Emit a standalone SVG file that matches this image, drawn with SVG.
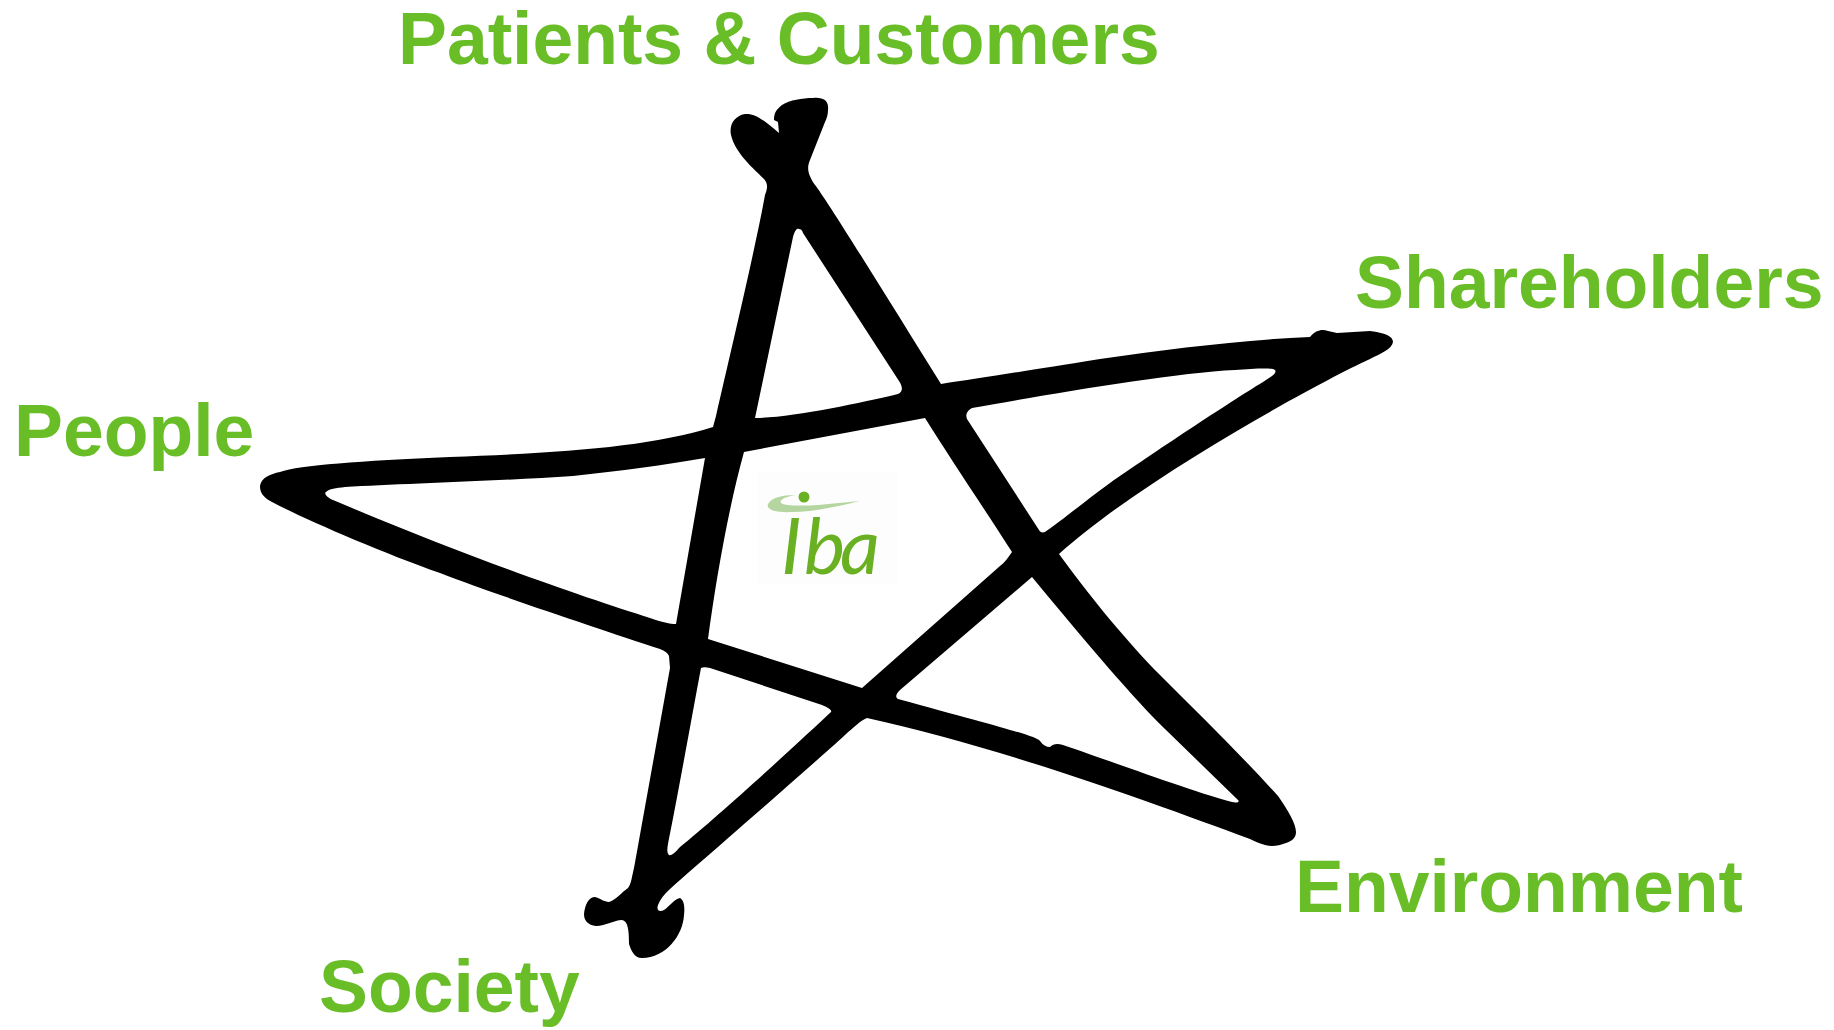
<svg xmlns="http://www.w3.org/2000/svg" width="1834" height="1030" viewBox="0 0 1834 1030">
<style>
.lbl{font-family:"Liberation Sans",Arial,sans-serif;font-weight:700;font-size:73.3px;fill:#69be28}
.star{fill:#000;fill-rule:evenodd}
</style>
<rect width="1834" height="1030" fill="#fff"/>
<g id="connectors">
<path class="star" d="M779 133 L778 122 L774 120 C774 113 776 110 782 105 C790 100 802 98 813 98 C824 97 829 101 828 110 C828 114 827 118 825 122 L810 160 C807 167 807 173 815 185 C825 197 890 302 941 384 C980 378 1020 372 1100 359 C1170 349 1240 340 1310 337 C1316 330 1322 329 1328 331 L1337 333 L1370 331 C1385 333 1393 336 1393 342 C1392 349 1380 354 1370 359 C1340 372 1150 472 1059 554 C1090 597 1130 645 1160 675 C1200 715 1240 754 1278 796 C1288 810 1296 824 1296 832 C1296 838 1292 841 1286 843 C1278 846 1272 847 1265 845 C1258 843 1254 841 1250 839 C1150 802 1000 747 867 718 C860 721 854 727 845 735 C800 776 700 862 670 889 C664 894 660 900 658 905 C656 911 660 912 664 910 C670 906 674 899 680 898 C684 900 685 907 684 915 C683 935 666 958 642 958 C634 958 631 950 629 944 C629 930 628 921 622 920 C614 920 606 926 596 926 C588 925 584 921 584 914 C585 904 589 897 595 897 C600 898 604 902 609 902 C616 900 622 892 628 888 C631 885 632 876 634 868 L670 668 L669 656 C668 653 665 651 660 649 C600 629 500 596 440 573 C380 552 300 517 272 502 C263 497 260 493 260 486 C261 478 270 474 280 472 C300 465 360 461 450 457 C560 453 650 447 713 427 L716 416 C730 355 755 250 765 195 C768 187 768 183 763 178 C755 170 735 153 731 135 C729 125 734 116 745 114 C755 113 765 121 779 133 Z
M755 418 L793 237 C795 230 797 228 799 229 C801 229 802 230 803 233 L899 381 C903 387 903 392 898 394 C860 403 790 418 755 418 Z
M744 452 L925 418 C950 458 985 510 1012 552 C1008 558 1004 563 1000 566 L862 688 L708 639 C716 580 728 510 744 452 Z
M972 408 C1040 396 1170 373 1235 370 C1250 369 1265 368 1273 369 C1277 370 1276 373 1272 376 L1263 382 C1230 402 1150 455 1110 483 C1085 501 1060 522 1045 532 C1042 533 1040 532 1039 530 L967 419 C965 414 968 410 972 408 Z
M1032 577 C1090 647 1135 700 1165 729 L1238 800 C1240 802 1237 803 1232 802 C1200 794 1110 761 1063 745 C1057 743 1053 744 1050 747 C1046 747 1043 745 1040 741 C1036 736 1000 727 898 699 C895 697 896 694 900 690 Z
M701 668 C703 667 706 667 710 668 L822 705 C829 708 832 710 831 712 C800 741 720 815 680 847 C675 853 671 856 669 855 C667 853 667 850 668 844 C675 810 692 716 701 668 Z
M705 458 L676 624 C670 624 662 622 650 618 C580 596 470 558 333 500 C326 497 324 493 326 492 C329 489 336 488 345 487 C400 484 500 481 573 476 C620 471 665 465 705 458 Z"/>
</g>
<g id="logo">
<rect x="757" y="472" width="140" height="112" fill="#fdfdfd"/>
<path d="M860 501 C835 507 812 512 792 512 C774 513 766 509 768 504 C771 498 782 495 795 495 C785 497 779 500 781 503 C785 506 802 506 818 505 Z" fill="#b5d6a0"/>
<circle cx="804" cy="497" r="5.5" fill="#6ab023"/>
<text x="781 804 840" y="574" font-family="Lato,'Liberation Sans',sans-serif" font-style="italic" font-size="78" fill="#6ab023">Iba</text>
</g>
<g id="patients"><text class="lbl" x="398" y="64">Patients &amp; Customers</text></g>
<g id="shareholders"><text class="lbl" x="1355" y="308">Shareholders</text></g>
<g id="people"><text class="lbl" x="14" y="456">People</text></g>
<g id="environment"><text class="lbl" x="1295" y="912">Environment</text></g>
<g id="society"><text class="lbl" x="319" y="1012">Society</text></g>
</svg>
